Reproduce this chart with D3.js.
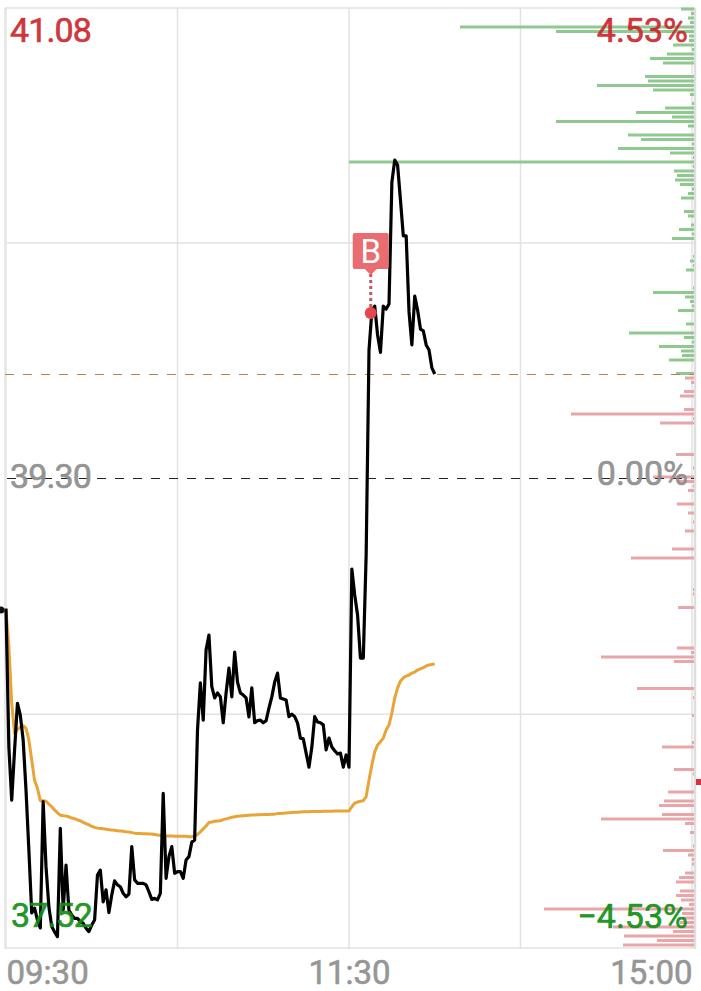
<!DOCTYPE html>
<html>
<head>
<meta charset="utf-8">
<script src="https://cdn.jsdelivr.net/npm/d3@7/dist/d3.min.js"></script>
<style>
    html, body { margin: 0; padding: 0; background: #fff; }
    svg { display: block; font-family: Roboto, sans-serif; }
</style>
</head>
<body>
<svg id="chart" width="701" height="991"></svg>
<script>
// Price per minute since the open.
const lastPrices = [
    38.806, 38.282, 38.080, 38.270, 38.447, 38.402, 38.308, 38.118, 37.891, 37.653,
    37.671, 37.626, 37.596, 38.074, 37.828, 37.676, 37.601, 37.581, 37.563, 37.973,
    37.664, 37.834, 37.664, 37.645, 37.632, 37.632, 37.620, 37.614, 37.595, 37.582,
    37.607, 37.626, 37.796, 37.815, 37.695, 37.740, 37.654, 37.721, 37.774, 37.759,
    37.752, 37.727, 37.714, 37.724, 37.904, 37.778, 37.765, 37.765, 37.765, 37.759,
    37.733, 37.704, 37.708, 37.702, 37.727, 38.106, 37.784, 37.866, 37.904, 37.803,
    37.809, 37.809, 37.784, 37.853, 37.866, 37.921, 37.929, 38.346, 38.524, 38.383,
    38.649, 38.705, 38.510, 38.467, 38.486, 38.471, 38.373, 38.486, 38.580, 38.471,
    38.641, 38.527, 38.486, 38.478, 38.467, 38.395, 38.505, 38.373, 38.381, 38.383,
    38.373, 38.381, 38.429, 38.471, 38.527, 38.561, 38.467, 38.463, 38.459, 38.396,
    38.406, 38.396, 38.372, 38.315, 38.312, 38.258, 38.205, 38.281, 38.396, 38.376,
    38.373, 38.365, 38.270, 38.315, 38.281, 38.267, 38.255, 38.258, 38.205, 38.251,
    38.205, 38.955, 38.857, 38.781, 38.618, 38.618, 39.008, 39.785, 39.932, 39.951,
    39.842, 39.776, 39.951, 39.940, 39.959, 40.420, 40.504, 40.485, 40.353, 40.217,
    40.217, 39.929, 39.804, 39.989, 39.936, 39.864, 39.857, 39.804, 39.785, 39.717,
    39.694
];

const averagePrices = [
    38.800, 38.661, 38.447, 38.333, 38.348, 38.356, 38.362, 38.352, 38.308, 38.232,
    38.154, 38.125, 38.078, 38.078, 38.076, 38.065, 38.055, 38.043, 38.032, 38.023,
    38.021, 38.020, 38.017, 38.012, 38.010, 38.005, 38.002, 37.996, 37.991, 37.986,
    37.981, 37.977, 37.974, 37.973, 37.972, 37.970, 37.968, 37.967, 37.966, 37.964,
    37.963, 37.962, 37.960, 37.959, 37.957, 37.955, 37.954, 37.954, 37.953, 37.953,
    37.952, 37.952, 37.950, 37.948, 37.947, 37.945, 37.944, 37.944, 37.944, 37.943,
    37.943, 37.943, 37.943, 37.943, 37.941, 37.941, 37.943, 37.950, 37.960, 37.971,
    37.982, 37.995, 37.997, 38.000, 38.001, 38.002, 38.006, 38.009, 38.012, 38.015,
    38.017, 38.019, 38.020, 38.021, 38.022, 38.023, 38.024, 38.024, 38.025, 38.025,
    38.026, 38.026, 38.026, 38.027, 38.027, 38.029, 38.029, 38.030, 38.031, 38.032,
    38.033, 38.034, 38.034, 38.035, 38.036, 38.036, 38.036, 38.037, 38.037, 38.037,
    38.037, 38.038, 38.038, 38.038, 38.038, 38.039, 38.039, 38.039, 38.039, 38.039,
    38.039, 38.055, 38.069, 38.073, 38.076, 38.078, 38.093, 38.156, 38.213, 38.263,
    38.289, 38.301, 38.315, 38.346, 38.365, 38.410, 38.467, 38.505, 38.531, 38.543,
    38.550, 38.554, 38.561, 38.565, 38.573, 38.577, 38.582, 38.588, 38.592, 38.594,
    38.596
];

// Volume at each price level, top of the chart downwards.
const volumesAbove = [
    13, 3, 6, 4, 234, 138, 5, 5, 21, 2, 27, 44, 31, 0, 0, 49, 46, 97, 41, 4,
    0, 2, 29, 58, 22, 138, 6, 0, 66, 53, 2, 76, 24, 1, 345, 1, 20, 17, 19, 14,
    2, 6, 13, 0, 0, 10, 6, 0, 3, 15, 2, 22, 0, 0, 0, 1, 4, 1, 8, 0,
    0, 0, 1, 41, 9, 4, 2, 16, 0, 0, 8, 0, 65, 10, 2, 35, 13, 12, 25, 0,
    0, 18
];

const volumesBelow = [
    9, 3, 0, 10, 14, 0, 0, 10, 123, 1, 34, 0, 0, 0, 0, 0, 0, 18, 0, 0,
    1, 0, 41, 17, 1, 6, 0, 0, 17, 0, 6, 0, 1, 0, 9, 0, 0, 0, 22, 0,
    63, 0, 0, 0, 0, 0, 0, 1, 1, 0, 0, 16, 0, 0, 0, 0, 0, 0, 0, 0,
    17, 3, 93, 20, 0, 0, 0, 0, 0, 57, 0, 1, 0, 0, 0, 2, 0, 0, 0, 0,
    0, 2, 32, 0, 0, 0, 0, 20, 1, 0, 0, 0, 26, 0, 30, 35, 0, 32, 93, 9,
    0, 4, 0, 0, 1, 31, 6, 2, 2, 0, 9, 15, 18, 0, 14, 18, 13, 5, 150, 12,
    11, 14, 81, 21, 70, 37, 71
];

const priceRange = [37.52, 41.08];
const previousClose = 39.30;
const currentPrice = 39.694;
const gridPrices = [41.08, 40.19, 38.405, 37.52];
const gridMinutes = [0, 60, 120, 180, 240];
const timeTicks = [0, 120, 240];
const timeLabels = ["09:30", "11:30", "15:00"];
const buyMinute = 127.6;
const buyPrice = 39.925;

document.addEventListener("DOMContentLoaded", () => {

    const svg = d3.select("#chart");

    const x = d3.scaleLinear().domain([0, 240]).range([6, 692]);
    const y = d3.scaleLinear().domain(priceRange).range([948, 8]);

    const volumes = volumesAbove.concat(volumesBelow);
    const level = d3.scalePoint().domain(d3.range(volumes.length)).range([9, 945]);
    const volumeWidth = d3.scaleLinear().domain([0, 345]).range([0, 345]);

    // Grid first, everything else goes over it.
    const gridColor = "#e2e2e2";
    svg.append("g").selectAll("line")
        .data(gridPrices)
        .join("line")
        .attr("x1", 5).attr("x2", 695)
        .attr("y1", (d) => y(d)).attr("y2", (d) => y(d))
        .attr("stroke", gridColor)
        .attr("stroke-width", 1.5);

    svg.append("g").selectAll("line")
        .data(gridMinutes)
        .join("line")
        .attr("x1", (d) => x(d)).attr("x2", (d) => x(d))
        .attr("y1", 8).attr("y2", 949)
        .attr("stroke", gridColor)
        .attr("stroke-width", 1.5);

    svg.append("line")
        .attr("x1", 5).attr("x2", 5).attr("y1", 8).attr("y2", 949)
        .attr("stroke", "#e8e8e8").attr("stroke-width", 2);
    svg.append("line")
        .attr("x1", 695).attr("x2", 695).attr("y1", 8).attr("y2", 949)
        .attr("stroke", "#dedede").attr("stroke-width", 2.5);

    // Volume by price, growing leftward from the right edge.
    svg.append("g").selectAll("rect")
        .data(volumes)
        .join("rect")
        .attr("x", (d) => 694 - volumeWidth(d))
        .attr("y", (d, i) => level(i) - 1.5)
        .attr("width", (d) => volumeWidth(d))
        .attr("height", 3)
        .attr("fill", (d, i) => i < volumesAbove.length ? "#8fc98f" : "#e9a6a8");

    // Dashed reference lines.
    svg.append("line")
        .attr("x1", 7).attr("x2", 694)
        .attr("y1", y(previousClose) + 0.5).attr("y2", y(previousClose) + 0.5)
        .attr("stroke", "#222").attr("stroke-width", 1)
        .attr("stroke-dasharray", "9 9");
    svg.append("line")
        .attr("x1", 5).attr("x2", 694)
        .attr("y1", Math.round(y(currentPrice)) + 0.5).attr("y2", Math.round(y(currentPrice)) + 0.5)
        .attr("stroke", "#b5834a").attr("stroke-width", 1)
        .attr("stroke-dasharray", "9 9");

    // Average and last price lines.
    const line = d3.line()
        .x((d, i) => x(i))
        .y((d) => y(d));

    svg.append("path")
        .datum(averagePrices)
        .attr("d", line)
        .attr("fill", "none")
        .attr("stroke", "#e8a435")
        .attr("stroke-width", 3)
        .attr("stroke-linejoin", "round");

    svg.append("path")
        .datum(lastPrices)
        .attr("d", line)
        .attr("fill", "none")
        .attr("stroke", "#000")
        .attr("stroke-width", 3.2)
        .attr("stroke-linejoin", "round");

    svg.append("circle")
        .attr("cx", 1).attr("cy", y(lastPrices[0]) + 1.5).attr("r", 3.5)
        .attr("fill", "#111");

    // Small red mark on the right edge.
    svg.append("rect")
        .attr("x", 696).attr("y", 779).attr("width", 5).attr("height", 6)
        .attr("fill", "#d9333a");

    // Buy marker.
    const buyX = x(buyMinute);
    const buyY = y(buyPrice);
    svg.append("line")
        .attr("x1", buyX).attr("x2", buyX)
        .attr("y1", buyY).attr("y2", 274)
        .attr("stroke", "#c9555b").attr("stroke-width", 3)
        .attr("stroke-dasharray", "3 3");
    svg.append("circle")
        .attr("cx", buyX).attr("cy", buyY).attr("r", 6)
        .attr("fill", "#e5474e");
    svg.append("rect")
        .attr("x", buyX - 18).attr("y", 233)
        .attr("width", 36).attr("height", 36)
        .attr("rx", 2)
        .attr("fill", "#e96d70");
    svg.append("path")
        .attr("d", d3.line()([[buyX - 6, 269], [buyX, 275], [buyX + 6, 269]]))
        .attr("fill", "#e96d70");
    svg.append("text")
        .attr("x", buyX).attr("y", 263)
        .attr("text-anchor", "middle")
        .attr("font-size", 33)
        .attr("fill", "#fff")
        .text("B");

    // Price and percent labels over the lines.
    const addLabel = (text, px, py, anchor, size, spacing, color) => {

        svg.append("text")
            .attr("x", px).attr("y", py)
            .attr("text-anchor", anchor)
            .attr("font-size", size)
            .attr("letter-spacing", spacing)
            .attr("fill", color)
            .attr("fill-opacity", 0.92)
            .attr("stroke", color)
            .attr("stroke-width", 0.7)
            .attr("stroke-opacity", 0.85)
            .text(text);
    };

    addLabel("41.08", 10, 41.5, "start", 34, -0.9, "#cb262c");
    addLabel("39.30", 10, 488, "start", 34, -0.9, "#8c8c8c");
    addLabel("37.52", 11, 927, "start", 34, -0.9, "#0f8f14");
    addLabel("4.53%", 688, 42, "end", 34, 0, "#cb262c");
    addLabel("0.00%", 688, 485, "end", 34, 0, "#8c8c8c");
    addLabel("\u22124.53%", 688, 928, "end", 34, 0, "#0f8f14");

    // Time labels on the bottom, ends pulled inside the frame.
    const timeAxis = d3.axisBottom(x)
        .tickValues(timeTicks)
        .tickFormat((d, i) => timeLabels[i])
        .tickSize(0)
        .tickPadding(0);

    const axisGroup = svg.append("g")
        .attr("transform", "translate(0,958)")
        .call(timeAxis);
    axisGroup.select(".domain").remove();
    axisGroup.selectAll("text")
        .attr("font-family", "Roboto, sans-serif")
        .attr("font-size", 33)
        .attr("fill", "#969696")
        .attr("stroke", "#969696")
        .attr("stroke-width", 0.6)
        .attr("text-anchor", (d, i) => ["start", "middle", "end"][i])
        .attr("dy", "0.78em");
});
</script>
</body>
</html>
